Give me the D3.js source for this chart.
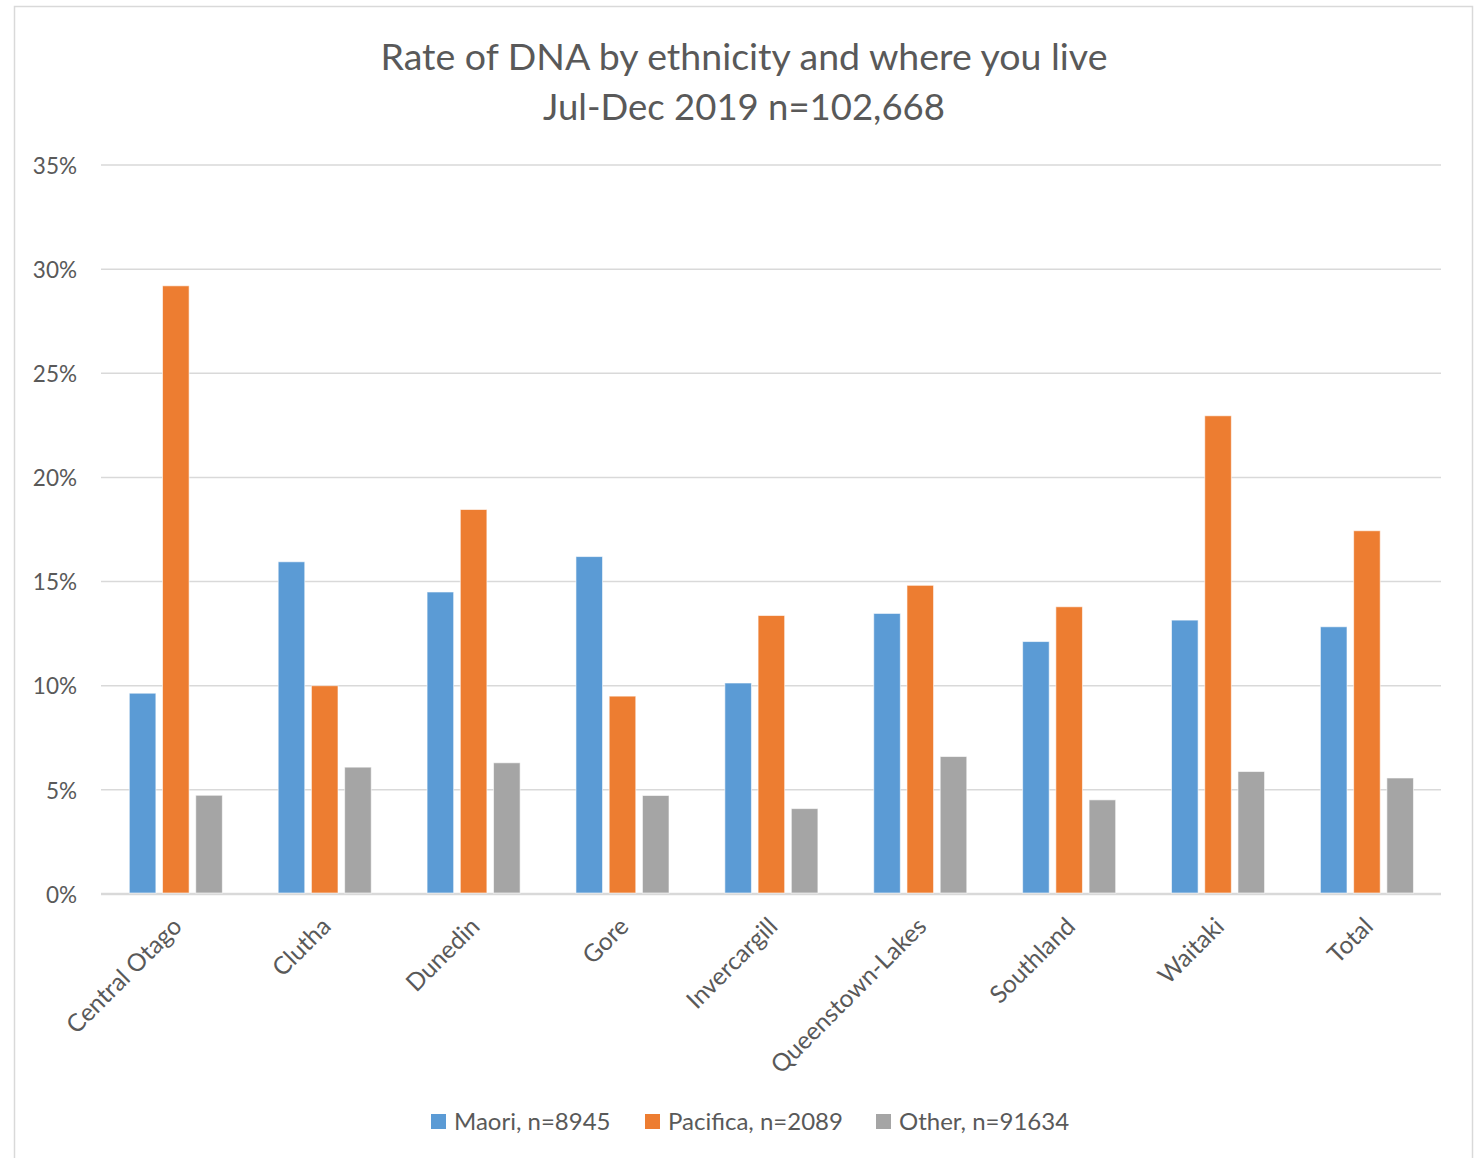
<!DOCTYPE html>
<html>
<head>
<meta charset="utf-8">
<script src="https://cdn.jsdelivr.net/npm/d3@7/dist/d3.min.js"></script>
<style>
  html, body { margin: 0; padding: 0; background: #fff; }
  svg { display: block; }
  text { font-family: Lato, "Open Sans", sans-serif; fill: #595959; }
</style>
</head>
<body>
<svg id="chart" width="1480" height="1158"></svg>
<script>
// Districts and rates (percent) per ethnic group
const districts = ["Central Otago", "Clutha", "Dunedin", "Gore", "Invercargill",
                   "Queenstown-Lakes", "Southland", "Waitaki", "Total"];
const seriesNames = ["Maori, n=8945", "Pacifica, n=2089", "Other, n=91634"];
const maori    = [9.64, 15.95, 14.5, 16.2, 10.13, 13.47, 12.12, 13.15, 12.83];
const pacifica = [29.2, 10.0, 18.46, 9.5, 13.37, 14.82, 13.79, 22.96, 17.44];
const other    = [4.74, 6.09, 6.3, 4.73, 4.1, 6.6, 4.52, 5.88, 5.57];
const yTicks   = [0, 5, 10, 15, 20, 25, 30, 35];
const titleLines = ["Rate of DNA by ethnicity and where you live", "Jul-Dec 2019 n=102,668"];

const seriesValues = [maori, pacifica, other];
const colors = ["#5b9bd5", "#ed7d31", "#a5a5a5"];

const svg = d3.select("#chart");

// chart area frame
svg.append("rect")
  .attr("x", 14.5).attr("y", 6.5)
  .attr("width", 1458).attr("height", 1170)
  .attr("fill", "#fff").attr("stroke", "#d9d9d9").attr("stroke-width", 1.5);

const plot = { left: 101, right: 1441, top: 165, bottom: 894 };

const y = d3.scaleLinear().domain([0, 35]).range([plot.bottom, plot.top]);
const x0 = d3.scaleBand().domain(districts).range([plot.left, plot.right]).padding(0);
const bw = x0.bandwidth();
const x1 = d3.scaleBand().domain(seriesNames)
  .range([bw * 0.19, bw * 0.815]).paddingInner(0.2).paddingOuter(0);

// title
svg.append("g").selectAll("text").data(titleLines).join("text")
  .attr("x", 744).attr("y", (d, i) => 70 + i * 50)
  .attr("text-anchor", "middle")
  .attr("font-size", (d, i) => i === 0 ? 37.5 : 36.5)
  .text(d => d);

// gridlines
svg.append("g").selectAll("line").data(yTicks).join("line")
  .attr("x1", plot.left).attr("x2", plot.right)
  .attr("y1", d => y(d)).attr("y2", d => y(d))
  .attr("stroke", "#d9d9d9")
  .attr("stroke-width", d => d === 0 ? 2.5 : 1.5);

// y axis labels
const yAxis = d3.axisLeft(y).tickValues(yTicks).tickFormat(d => d + "%").tickSize(0).tickPadding(0);
const gy = svg.append("g").attr("transform", `translate(77,1)`).call(yAxis);
gy.select(".domain").remove();
gy.selectAll("text").attr("font-size", 22.5).attr("font-family", "Lato, 'Open Sans', sans-serif").attr("fill", "#595959");

// bars
const groups = svg.append("g").selectAll("g").data(districts).join("g")
  .attr("transform", d => `translate(${x0(d)},0)`);

groups.selectAll("rect")
  .data((d, i) => seriesNames.map((s, j) => ({ s, j, v: seriesValues[j][i] })))
  .join("rect")
  .attr("x", d => x1(d.s))
  .attr("width", x1.bandwidth())
  .attr("y", d => y(d.v))
  .attr("height", d => y(0) - y(d.v) - 1)
  .attr("fill", d => colors[d.j])
  .attr("stroke", "#ffffff").attr("stroke-opacity", 0.6).attr("stroke-width", 1);

// category labels
const xAxis = d3.axisBottom(x0).tickSize(0).tickPadding(0);
const gx = svg.append("g").attr("transform", `translate(0,${plot.bottom})`).call(xAxis);
gx.select(".domain").remove();
gx.selectAll(".tick text")
  .attr("font-size", 24.5)
  .attr("font-family", "Lato, 'Open Sans', sans-serif")
  .attr("fill", "#595959")
  .attr("text-anchor", "end")
  .attr("dy", 0)
  .attr("y", 0)
  .attr("transform", "translate(8,34) rotate(-45)");

// legend
const legendX = [431, 645, 876];
const legend = svg.append("g").selectAll("g").data(seriesNames).join("g")
  .attr("transform", (d, i) => `translate(${legendX[i]},1114)`);
legend.append("rect").attr("width", 15).attr("height", 15).attr("fill", (d, i) => colors[i]);
legend.append("text").attr("x", 23).attr("y", 16).attr("font-size", 24).text(d => d);
</script>
</body>
</html>
